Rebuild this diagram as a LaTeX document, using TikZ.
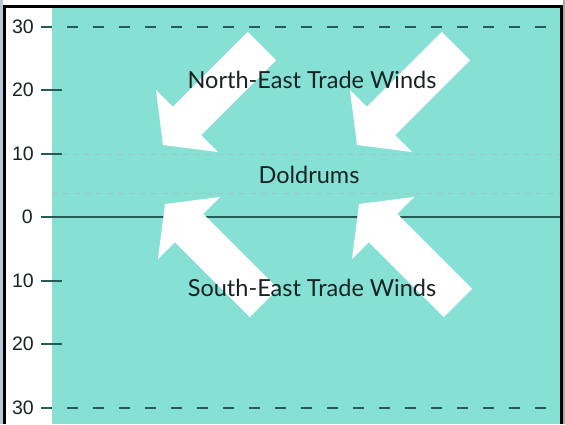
\documentclass[tikz,border=0pt]{standalone}
\usepackage{fontspec}
\newfontfamily\lblfont{Lato}
\newfontfamily\numfont{Liberation Sans}
\definecolor{seateal}{RGB}{134,224,212}
\definecolor{darkline}{RGB}{38,92,88}
\definecolor{lightdash}{RGB}{160,198,194}
\definecolor{txt}{RGB}{25,35,35}
\definecolor{edgeblue}{RGB}{184,200,212}
\definecolor{edgegray}{RGB}{165,170,176}
\tikzset{
  numlbl/.style={anchor=east, inner sep=0pt, font=\numfont\fontsize{19.5}{19.5}\selectfont, text=txt},
  windlbl/.style={inner sep=0pt, font=\lblfont\fontsize{23.5}{23.5}\selectfont, text=txt},
  tickline/.style={darkline, line width=1.6pt},
  bigdash/.style={darkline, line width=1.8pt, dash pattern=on 11pt off 15pt},
  smalldash/.style={lightdash, line width=1pt, dash pattern=on 6pt off 5pt},
  windarrow/.pic={\fill[white] (0,0) -- (34,44) -- (34,20) -- (140,20) -- (140,-20) -- (34,-20) -- (34,-44) -- cycle;}
}
\begin{document}
\begin{tikzpicture}[x=1pt,y=1pt]
\useasboundingbox (0,0) rectangle (565,424);
\fill[white] (0,0) rectangle (565,424);
\fill[edgeblue] (0,0) rectangle (2.5,424);
\fill[edgegray] (563,0) rectangle (565,424);
\fill[seateal] (52,0) rectangle (560,416);
\draw[black, line width=3pt] (4.5,0) -- (4.5,417.5) -- (561.5,417.5) -- (561.5,0);
% latitude lines
\coordinate (t30a) at (41,397);  \coordinate (t30b) at (560,397);
\coordinate (t20a) at (41,334);  \coordinate (t20b) at (62,334);
\coordinate (t10a) at (41,270);  \coordinate (t10b) at (62,270); \coordinate (t10c) at (560,270);
\coordinate (dla) at (52,231);   \coordinate (dlb) at (560,231);
\coordinate (eqa) at (41,207);   \coordinate (eqb) at (560,207);
\coordinate (s10a) at (41,143);  \coordinate (s10b) at (62,143);
\coordinate (s20a) at (41,80);   \coordinate (s20b) at (62,80);
\coordinate (s30a) at (41,16);   \coordinate (s30b) at (560,16);
\draw[bigdash] (t30a) -- (t30b);
\draw[tickline] (t20a) -- (t20b);
\draw[tickline] (t10a) -- (t10b);
\draw[smalldash] (t10b) -- (t10c);
\draw[smalldash] (dla) -- (dlb);
\draw[darkline, line width=1.4pt] (eqa) -- (eqb);
\draw[tickline] (s10a) -- (s10b);
\draw[tickline] (s20a) -- (s20b);
\draw[bigdash] (s30a) -- (s30b);
% numbers
\node[numlbl] (n30) at (34,397) {30};
\node[numlbl] (n20) at (34,334) {20};
\node[numlbl] (n10) at (34,270) {10};
\node[numlbl] (n0) at (33,207) {0};
\node[numlbl] (m10) at (34,143) {10};
\node[numlbl] (m20) at (34,80) {20};
\node[numlbl] (m30) at (34,16) {30};
% wind arrows
\pic[rotate=45] at (163,279) {windarrow};
\pic[rotate=45] at (357,279) {windarrow};
\pic[rotate=-45] at (165,220) {windarrow};
\pic[rotate=-45] at (359,220) {windarrow};
% labels
\node[windlbl] (ne) at (312,344) {North-East Trade Winds};
\node[windlbl] (dol) at (309,249) {Doldrums};
\node[windlbl] (se) at (312,136) {South-East Trade Winds};
\end{tikzpicture}
\end{document}
